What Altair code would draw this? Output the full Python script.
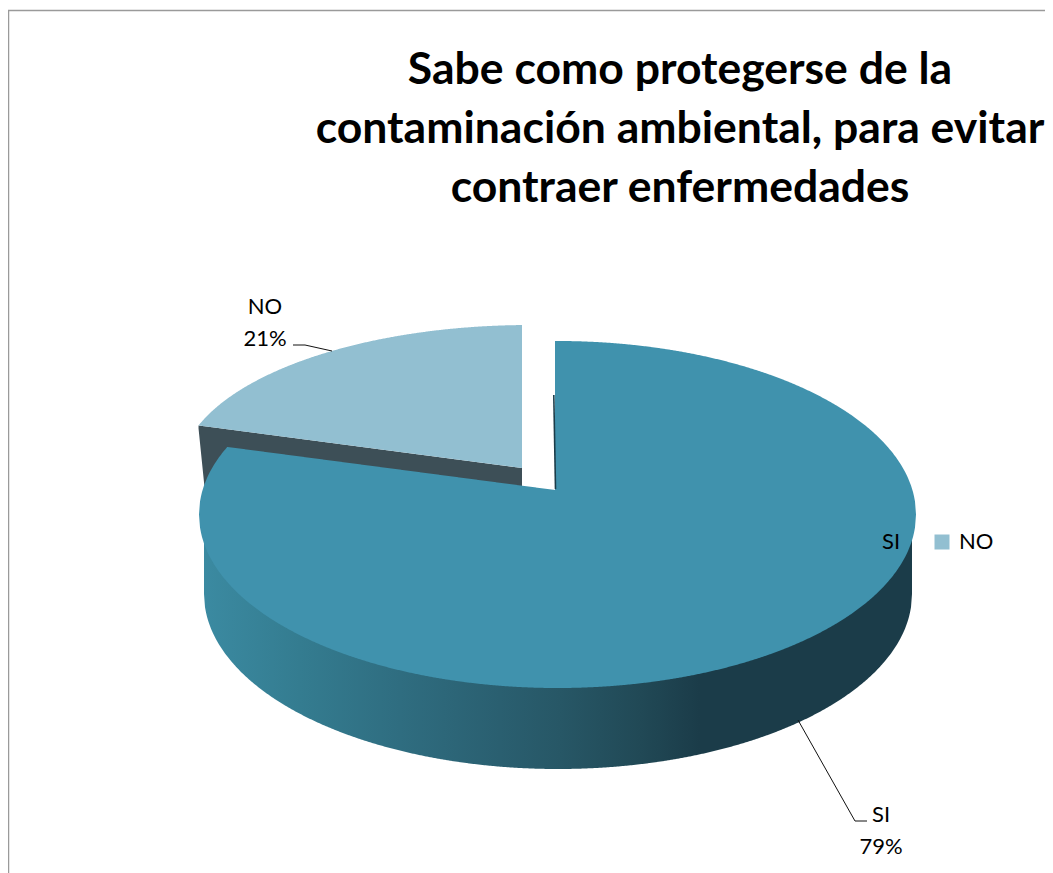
import numpy as np
import pandas as pd
import altair as alt

# ---- chart values
CATEGORIES = ["SI", "NO"]
SHARES = [79, 21]
TITLE_LINES = ["Sabe como protegerse de la",
               "contaminación ambiental, para evitar",
               "contraer enfermedades"]

# ---- style
COL_SI, COL_NO = "#4092AD", "#92BFD1"
COL_DARK = "#3D4F57"
FONT = "Lato"

# ---- layout of the 3-D projection (page pixels)
W, H = 1037, 865
KY = 0.512
SI_TOP = dict(cx=557.5, cy=514.5, a=358.5, b=173.5, ax=555, ay=490)
NO_TOP = dict(cx=530, cy=473, a=350, b=148, ax=522, ay=468)
SI_BASE = dict(cx=558, cy=594, a=354, b=175)


def rim(e, theta):
    """Where a radius at angle theta (clockwise from 12 o'clock) meets the rim."""
    dx, dy = np.sin(theta), -np.cos(theta) * KY
    px, py = (e["ax"] - e["cx"]) / e["a"], (e["ay"] - e["cy"]) / e["b"]
    qx, qy = dx / e["a"], dy / e["b"]
    A, B, C = qx**2 + qy**2, 2 * (px * qx + py * qy), px**2 + py**2 - 1
    t = (-B + np.sqrt(B**2 - 4 * A * C)) / (2 * A)
    return e["ax"] + t * dx, e["ay"] + t * dy


def upper(e, x):
    return e["cy"] - e["b"] * np.sqrt(np.clip(1 - ((x - e["cx"]) / e["a"]) ** 2, 0, 1))


def lower(e, x):
    return e["cy"] + e["b"] * np.sqrt(np.clip(1 - ((x - e["cx"]) / e["a"]) ** 2, 0, 1))


def on_line(x, x0, y0, x1, y1):
    return y0 + (y1 - y0) * (x - x0) / (x1 - x0)


theta_si = np.radians(SHARES[0] * 3.6)    # SI runs clockwise from 12 o'clock
theta_no = -np.radians(SHARES[1] * 3.6)   # NO runs anticlockwise from 12 o'clock
sx, sy = rim(SI_TOP, theta_si)
nx, ny = rim(NO_TOP, theta_no)

rows = []
# SI top face
xs = np.arange(SI_TOP["cx"] - SI_TOP["a"], SI_TOP["cx"] + SI_TOP["a"] + 0.5, 1.0)
left = [x for x in xs if x < sx] + [sx]
mid = [x for x in xs if sx < x < SI_TOP["ax"]] + [SI_TOP["ax"]]
right = [SI_TOP["ax"]] + [x for x in xs if x > SI_TOP["ax"]]
for x in left:
    rows.append(("SI", x, upper(SI_TOP, x), lower(SI_TOP, x)))
for x in mid:
    rows.append(("SI", x, on_line(x, sx, sy, SI_TOP["ax"], SI_TOP["ay"]), lower(SI_TOP, x)))
for x in right:
    rows.append(("SI", x, upper(SI_TOP, x), lower(SI_TOP, x)))
# NO top face
for x in [nx] + [v for v in np.arange(nx + 1, NO_TOP["ax"], 1.0)] + [NO_TOP["ax"]]:
    rows.append(("NO", x, upper(NO_TOP, x), on_line(x, nx, ny, NO_TOP["ax"], NO_TOP["ay"])))
tops = pd.DataFrame(rows, columns=["part", "x", "y", "y2"])
tops[["x", "y", "y2"]] = tops[["x", "y", "y2"]].astype(float).round(2)

# SI outer wall
wx = np.arange(SI_BASE["cx"] - SI_BASE["a"], SI_BASE["cx"] + SI_BASE["a"] + 0.5, 1.0)
wall = pd.DataFrame({"x": wx, "y": SI_TOP["cy"], "y2": lower(SI_BASE, wx)})

# NO cut face seen behind the SI slice
cut = pd.DataFrame({
    "x": [nx, nx + 6, NO_TOP["ax"]],
    "y": [ny, on_line(nx + 6, nx, ny, NO_TOP["ax"], NO_TOP["ay"]), NO_TOP["ay"]],
    "y2": [ny + 3, ny + 62, NO_TOP["ay"] + 30],
})

# thin cut edge of the SI slice
sliver = pd.DataFrame({"x": [553.8, 555.5], "y": [395, 489], "k": ["a", "a"], "o": [0, 1]})

leaders = pd.DataFrame({
    "k": ["NO", "NO", "NO", "SI", "SI", "SI"],
    "o": [0, 1, 2, 0, 1, 2],
    "x": [293, 305, 332, 798, 855, 867],
    "y": [345, 345, 351, 720, 821, 821],
})
border = pd.DataFrame({"k": ["b"] * 3, "o": [0, 1, 2],
                       "x": [8.6, 8.6, 1053], "y": [873, 10.5, 10.5]})
labels = pd.DataFrame({
    "text": [f"{CATEGORIES[1]}\n{SHARES[1]}%", f"{CATEGORIES[0]}\n{SHARES[0]}%"],
    "x": [265, 881], "y": [314, 822],
})

X = alt.X("x:Q", axis=None, scale=alt.Scale(domain=[8, 8 + W]))
Y = alt.Y("y:Q", axis=None, stack=None, scale=alt.Scale(domain=[8 + H, 8]))
Y2 = alt.Y2("y2:Q")

wall_fill = alt.Gradient(
    gradient="linear", x1=0, x2=1, y1=0, y2=0,
    stops=[alt.GradientStop(color=c, offset=o) for c, o in
           [("#3B8AA1", 0), ("#347C90", 0.135), ("#2F6D80", 0.277), ("#2A5F70", 0.418),
            ("#275766", 0.503), ("#214956", 0.616), ("#1B3C49", 0.70), ("#1B3C49", 1)]])

layers = [
    alt.Chart(border).mark_line(color="#9A9A9A", strokeWidth=1.3, clip=True).encode(X, Y, detail="k:N", order="o:Q"),
    alt.Chart(cut).mark_area(color=COL_DARK).encode(X, Y, Y2),
    alt.Chart(wall).mark_area(color=wall_fill).encode(X, Y, Y2),
    alt.Chart(tops).mark_area(opacity=1).encode(
        X, Y, Y2,
        fill=alt.Fill("part:N",
                      scale=alt.Scale(domain=CATEGORIES, range=[COL_SI, COL_NO]),
                      legend=alt.Legend(title=None, orient="none", direction="horizontal",
                                        legendX=846, legendY=531 - 8,
                                        symbolType="square", symbolSize=225,
                                        symbolStrokeWidth=0, symbolOpacity=1,
                                        labelFont=FONT, labelFontSize=22, labelColor="#000000",
                                        labelOffset=6, columnPadding=30, zindex=1,
                                        padding=0))),
    alt.Chart(sliver).mark_line(color="#1B3C49", strokeWidth=1.6).encode(X, Y, detail="k:N", order="o:Q"),
    alt.Chart(leaders).mark_line(color="#111111", strokeWidth=1).encode(X, Y, detail="k:N", order="o:Q"),
    alt.Chart(labels).mark_text(font=FONT, fontSize=22, color="#000000", align="center",
                                lineBreak="\n", lineHeight=32, baseline="alphabetic").encode(
        X, Y, text="text:N"),
]

chart = alt.layer(*layers).properties(
    width=W, height=H,
    padding=0,
    autosize=alt.AutoSizeParams(type="none"),
    title=alt.TitleParams(text=TITLE_LINES, font=FONT, fontSize=44.5, fontWeight="bold",
                          color="#000000", lineHeight=59, anchor="middle", frame="group",
                          dx=153.5, offset=-247, baseline="bottom"),
).configure_view(stroke=None)

chart.save("out.html", embed_options={"renderer": "svg", "actions": False})
